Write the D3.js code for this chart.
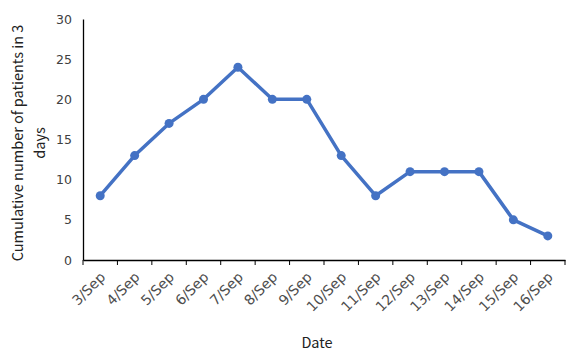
<!DOCTYPE html>
<html><head><meta charset="utf-8">
<script src="https://cdn.jsdelivr.net/npm/d3@7/dist/d3.min.js"></script>
<style>body{margin:0;background:#fff}svg{display:block}</style>
</head><body><svg id="c" width="573" height="359"></svg>
<script>
const categories = ["3/Sep","4/Sep","5/Sep","6/Sep","7/Sep","8/Sep","9/Sep","10/Sep","11/Sep","12/Sep","13/Sep","14/Sep","15/Sep","16/Sep"];
const values = [8,13,17,20,24,20,20,13,8,11,11,11,5,3];
const yTicks = [0,5,10,15,20,25,30];
const yTitleLines = ["Cumulative number of patients in 3","days"];
const xTitle = "Date";

const svg = d3.select("#c");
const mLeft = 83, mRight = 565, mTop = 19, mBottom = 260;
const x = d3.scaleBand().domain(categories).range([mLeft, mRight]).padding(0);
const y = d3.scaleLinear().domain([0,30]).range([mBottom, mTop]);

// y axis
const ya = svg.append("g").attr("transform", `translate(${mLeft},0)`)
  .call(d3.axisLeft(y).tickValues(yTicks).tickSize(0).tickPadding(11));
ya.attr("font-family", null);
ya.select(".domain").attr("stroke","#000").attr("stroke-width",1.3);
ya.selectAll("text").style("font-size","12.5px").style("font-family","'DejaVu Sans'").attr("fill","#404040");

// x axis
const xa = svg.append("g").attr("transform", `translate(0,${mBottom})`)
  .call(d3.axisBottom(x).tickSize(0).tickFormat(d=>d));
xa.attr("font-family", null);
xa.select(".domain").attr("stroke","#000").attr("stroke-width",1.3);
xa.selectAll(".tick line").remove();
const edges = categories.map(c => x(c)).concat([x(categories[categories.length-1]) + x.bandwidth()]);
xa.selectAll(".edgetick").data(edges).join("line").attr("class","edgetick")
  .attr("x1",d=>d).attr("x2",d=>d).attr("y1",0).attr("y2",5).attr("stroke","#000").attr("stroke-width",1);
xa.selectAll(".tick text")
  .style("font-size","14px").style("font-family","'DejaVu Sans'").attr("fill","#4d4d4d")
  .attr("text-anchor","end").attr("dy",0).attr("y",0)
  .attr("transform","translate(6,18) rotate(-45)");

// line
const cx = c => x(c) + x.bandwidth()/2;
svg.append("path").datum(values)
  .attr("fill","none").attr("stroke","#4472C4").attr("stroke-width",3.5).attr("stroke-linejoin","round")
  .attr("d", d3.line().x((d,i)=>cx(categories[i])).y(d=>y(d)));
svg.selectAll(".pt").data(values).join("circle").attr("class","pt")
  .attr("cx",(d,i)=>cx(categories[i])).attr("cy",d=>y(d)).attr("r",4.5).attr("fill","#4472C4");

// titles
const yt = svg.append("text").attr("transform","translate(29,143) rotate(-90)")
  .attr("text-anchor","middle").style("font-family","'Noto Sans CJK SC'").style("font-size","14.5px").attr("fill","#222");
yTitleLines.forEach((t,i)=> yt.append("tspan").attr("x",0).attr("dy", i===0 ? -6 : 22).text(t));
svg.append("text").attr("x",317).attr("y",348).attr("text-anchor","middle")
  .style("font-family","'Noto Sans CJK SC'").style("font-size","14.5px").attr("fill","#222").text(xTitle);
</script></body></html>
